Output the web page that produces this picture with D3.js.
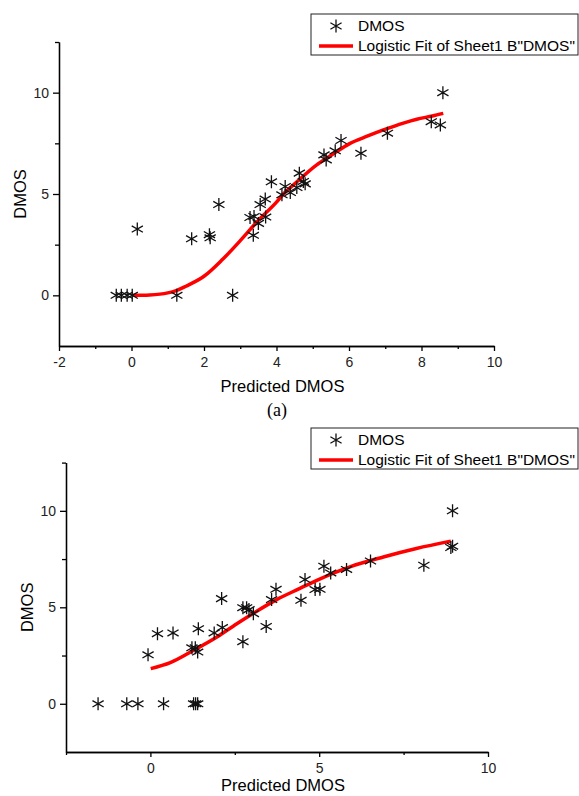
<!DOCTYPE html>
<html>
<head>
<meta charset="utf-8">
<script src="https://cdn.jsdelivr.net/npm/d3@7"></script>
<style>
  body { margin: 0; background: #fff; }
  svg { display: block; font-family: Arial, "Liberation Sans", sans-serif; }
  .axis path, .axis line { stroke: #000; stroke-width: 1.3; }
  .axis text { font-size: 14px; fill: #222; font-family: Arial, "Liberation Sans", sans-serif; }
</style>
</head>
<body>
<svg id="chart" width="579" height="796"></svg>
<script>
// panel (a) scatter - Predicted DMOS vs DMOS
const predA = [-0.42, -0.28, -0.12, 0.02, 0.16, 1.25, 1.66, 2.15, 2.17, 2.41, 2.79,
  3.27, 3.38, 3.36, 3.5, 3.55, 3.69, 3.7, 3.86, 4.15, 4.24, 4.38, 4.56, 4.63, 4.74, 4.79,
  5.31, 5.37, 5.62, 5.78, 6.33, 7.06, 8.27, 8.52, 8.59];
const dmosA = [0, 0, 0, 0, 3.27, 0, 2.79, 2.99, 2.84, 4.48, 0,
  3.84, 3.89, 2.96, 3.55, 4.48, 4.75, 3.86, 5.6, 4.96, 5.37, 5.07, 5.32, 6.03, 5.62, 5.5,
  6.93, 6.68, 7.13, 7.64, 7.01, 8.0, 8.57, 8.41, 10.0];
// fitted curve of panel (a)
const fitAx = [0.03, 0.5, 1.0, 1.25, 1.5, 2.0, 2.5, 3.0, 3.27, 3.5, 4.0, 4.19, 4.5, 5.11, 5.5, 6.03, 6.5, 6.95, 7.5, 7.87, 8.3, 8.6];
const fitAy = [0, 0.02, 0.12, 0.25, 0.45, 0.94, 1.75, 2.7, 3.24, 3.7, 4.6, 5.0, 5.5, 6.44, 6.9, 7.5, 7.85, 8.16, 8.5, 8.69, 8.85, 8.98];

// panel (b)
const predB = [-1.55, -0.7, -0.37, 0.39, 1.28, 1.34, 1.4, -0.07, 0.21, 0.67, 1.23, 1.33, 1.4, 1.42,
  1.89, 2.11, 2.13, 2.74, 2.74, 2.85, 2.92, 3.05, 3.43, 3.59, 3.72, 4.46, 4.58, 4.88, 5.02,
  5.14, 5.34, 5.81, 6.52, 8.1, 8.9, 8.95, 8.95];
const dmosB = [0, 0, 0, 0, 0, 0, 0, 2.54, 3.63, 3.67, 2.9, 2.9, 2.68, 3.89,
  3.67, 5.45, 3.95, 3.22, 4.98, 4.98, 4.88, 4.67, 4.01, 5.4, 5.93, 5.36, 6.44, 5.92, 5.93,
  7.13, 6.78, 6.96, 7.4, 7.18, 8.1, 8.17, 10.0];
const fitBx = [0.01, 0.59, 1.28, 1.97, 2.56, 3.15, 3.74, 4.43, 4.93, 5.91, 6.9, 7.88, 8.9];
const fitBy = [1.82, 2.13, 2.77, 3.46, 4.15, 4.8, 5.4, 5.98, 6.4, 7.1, 7.61, 8.05, 8.43];

const legendLabels = ['DMOS', 'Logistic Fit of Sheet1 B"DMOS"'];
const xLabel = 'Predicted DMOS';
const yLabel = 'DMOS';

const svg = d3.select('#chart');

// asterisk marker like Origin's star symbol
const star = 'M0,-6.5L0,6.5M-5.6,-3.2L5.6,3.2M-5.6,3.2L5.6,-3.2';

const drawPanel = (cfg) => {
  const g = svg.append('g');
  const x = d3.scaleLinear().domain(cfg.xDomain).range(cfg.xRange);
  const y = d3.scaleLinear().domain([-2.5, 12.5]).range(cfg.yRange);
  const y0 = cfg.yRange[0];
  const x0 = cfg.xRange[0];

  // minor ticks first
  g.append('g').attr('class', 'axis')
    .attr('transform', `translate(0,${y0})`)
    .call(d3.axisBottom(x).tickValues(cfg.xMinor).tickSize(3).tickSizeOuter(0).tickFormat(''));
  g.append('g').attr('class', 'axis')
    .attr('transform', `translate(${x0},0)`)
    .call(d3.axisLeft(y).tickValues([2.5, 7.5, 12.5]).tickSize(4).tickSizeOuter(0).tickFormat(''));

  g.append('g').attr('class', 'axis')
    .attr('transform', `translate(0,${y0})`)
    .call(d3.axisBottom(x).tickValues(cfg.xMajor).tickSize(5).tickSizeOuter(0).tickPadding(6)
      .tickFormat(d => String(d)));
  g.append('g').attr('class', 'axis')
    .attr('transform', `translate(${x0},0)`)
    .call(d3.axisLeft(y).tickValues([0, 5, 10]).tickSize(6).tickSizeOuter(0).tickPadding(4)
      .tickFormat(d => String(d)));

  // axis titles
  g.append('text')
    .attr('x', (cfg.xRange[0] + cfg.xRange[1]) / 2 + 6)
    .attr('y', cfg.xTitleY)
    .attr('text-anchor', 'middle')
    .style('font-size', '16.5px')
    .text(xLabel);
  g.append('text')
    .attr('transform', `translate(${cfg.yTitleX},${y(5)}) rotate(-90)`)
    .attr('text-anchor', 'middle')
    .style('font-size', '16.5px')
    .text(yLabel);

  // fit line
  const line = d3.line()
    .x(d => x(d[0]))
    .y(d => y(d[1]))
    .curve(d3.curveMonotoneX);
  g.append('path')
    .datum(cfg.fitX.map((v, i) => [v, cfg.fitY[i]]))
    .attr('d', line)
    .attr('fill', 'none')
    .attr('stroke', '#ff0000')
    .attr('stroke-width', 3.5);

  // points
  g.append('g')
    .selectAll('path')
    .data(cfg.px.map((v, i) => [v, cfg.py[i]]))
    .join('path')
      .attr('transform', d => `translate(${x(d[0])},${y(d[1])})`)
      .attr('d', star)
      .attr('stroke', '#111')
      .attr('stroke-width', 1.3)
      .attr('fill', 'none');

  // legend
  const lg = g.append('g').attr('transform', `translate(${cfg.legend[0]},${cfg.legend[1]})`);
  lg.append('rect')
    .attr('width', 267).attr('height', 41)
    .attr('fill', '#fff').attr('stroke', '#222').attr('stroke-width', 1);
  lg.append('path')
    .attr('transform', 'translate(25,12)')
    .attr('d', star)
    .attr('stroke', '#111').attr('stroke-width', 1.3);
  lg.append('line')
    .attr('x1', 8).attr('x2', 42).attr('y1', 32).attr('y2', 32)
    .attr('stroke', '#ff0000').attr('stroke-width', 3.5);
  lg.selectAll('text.lab')
    .data(legendLabels)
    .join('text')
      .attr('class', 'lab')
      .attr('x', 47)
      .attr('y', (d, i) => 17 + i * 20)
      .style('font-size', '15.5px')
      .text(d => d);
};

drawPanel({
  xDomain: [-2, 10], xRange: [59, 494], yRange: [346, 42],
  xMajor: [-2, 0, 2, 4, 6, 8, 10], xMinor: [-1, 1, 3, 5, 7, 9],
  px: predA, py: dmosA, fitX: fitAx, fitY: fitAy,
  xTitleY: 392, yTitleX: 26, legend: [311, 14]
});

drawPanel({
  xDomain: [-2.5, 10], xRange: [66, 488], yRange: [752, 462.6],
  xMajor: [0, 5, 10], xMinor: [-2.5, 2.5, 7.5],
  px: predB, py: dmosB, fitX: fitBx, fitY: fitBy,
  xTitleY: 791, yTitleX: 33, legend: [311, 428]
});

svg.append('text')
  .attr('x', 277)
  .attr('y', 416)
  .attr('text-anchor', 'middle')
  .style('font-family', '"Times New Roman", "Liberation Serif", serif')
  .style('font-size', '18px')
  .text('(a)');
</script>
</body>
</html>
